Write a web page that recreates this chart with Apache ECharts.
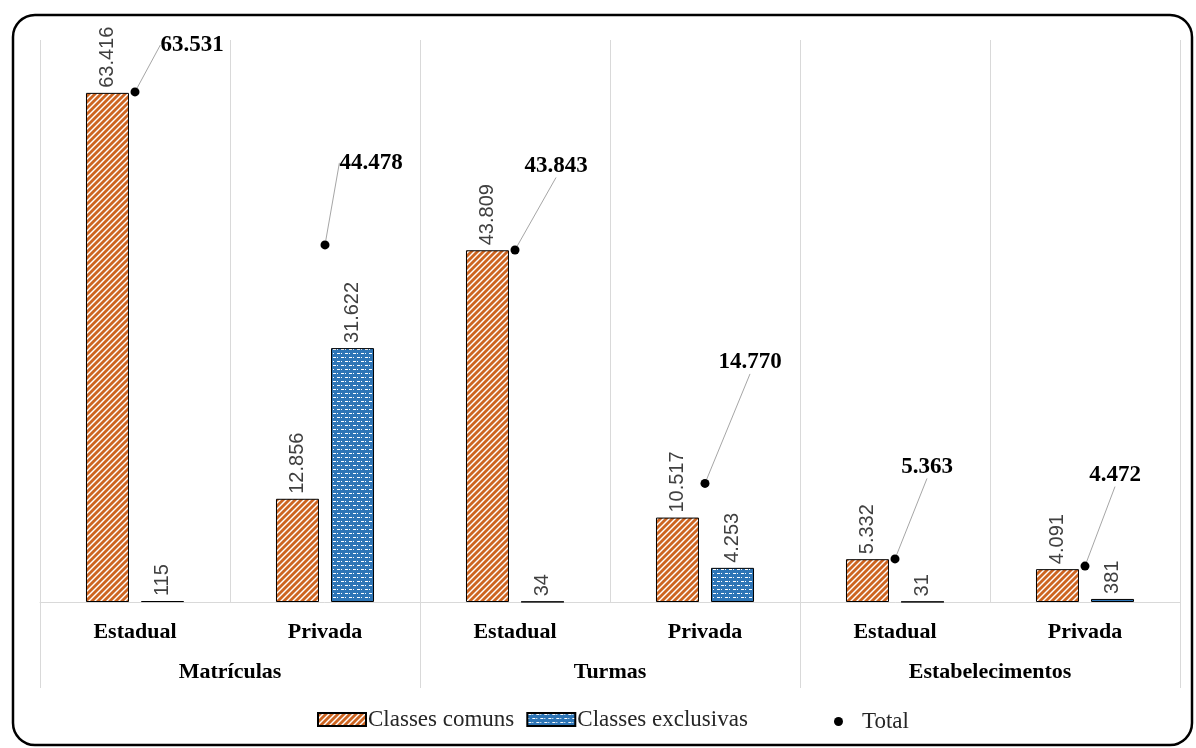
<!DOCTYPE html>
<html>
<head>
<meta charset="utf-8">
<script src="https://cdn.jsdelivr.net/npm/echarts@6/dist/echarts.min.js"></script>
<style>
  html, body { margin: 0; padding: 0; background: #fff; }
  #chart { width: 1196px; height: 748px; }
</style>
</head>
<body>
<div id="chart"></div>
<script>
// Categories and values
const categories = ['Estadual', 'Privada', 'Estadual', 'Privada', 'Estadual', 'Privada'];
const groups = ['Matrículas', 'Turmas', 'Estabelecimentos'];
const classesComuns = [63416, 12856, 43809, 10517, 5332, 4091];
const classesExclusivas = [115, 31622, 34, 4253, 31, 381];
const totals = [63531, 44478, 43843, 14770, 5363, 4472];

// Offsets (px) of each total label from its dot
const totalLabelShift = [[57, -47], [46, -82], [41, -84], [45, -121], [32, -92], [30, -91]];

const fmt = v => String(v).replace(/\B(?=(\d{3})+(?!\d))/g, '.');

// Diagonal hatch fill
function hatchPattern() {
  const c = document.createElement('canvas');
  c.width = 6; c.height = 6;
  const g = c.getContext('2d');
  g.fillStyle = '#CD6420';
  g.fillRect(0, 0, 6, 6);
  g.strokeStyle = '#ffffff';
  g.lineWidth = 1.4;
  for (let k = -6; k <= 12; k += 6) {
    g.beginPath();
    g.moveTo(k - 1, 7);
    g.lineTo(k + 7, -1);
    g.stroke();
  }
  return c;
}

// Blue fill with small white dashes
function dashPattern() {
  const c = document.createElement('canvas');
  c.width = 8; c.height = 8;
  const g = c.getContext('2d');
  g.fillStyle = '#2E75B6';
  g.fillRect(0, 0, 8, 8);
  g.fillStyle = '#ffffff';
  g.fillRect(1, 1, 3, 1);
  g.fillRect(5, 5, 3, 1);
  g.fillRect(5, 1, 1, 1);
  g.fillRect(1, 5, 1, 1);
  return c;
}

const chart = echarts.init(document.getElementById('chart'), null, { renderer: 'canvas' });

const serif = 'Liberation Serif, Times New Roman, serif';

const valueLabel = {
  show: true,
  position: 'top',
  rotate: 90,
  align: 'left',
  verticalAlign: 'middle',
  distance: 5,
  fontFamily: 'Liberation Sans, Arial, sans-serif',
  fontSize: 20,
  color: '#404040',
  formatter: p => fmt(p.value)
};

const option = {
  backgroundColor: '#ffffff',
  animation: false,
  graphic: [{
    type: 'rect',
    shape: { x: 13, y: 15, width: 1179, height: 730, r: 22 },
    style: { fill: 'none', stroke: '#000', lineWidth: 2.5 },
    silent: true,
    z: 0
  }],
  legend: [{
    data: [
      { name: 'Classes comuns', icon: 'rect' },
      { name: 'Classes exclusivas', icon: 'rect' }
    ],
    left: 312,
    top: 703,
    itemWidth: 48,
    itemHeight: 13,
    itemGap: 12,
    textStyle: { fontFamily: serif, fontSize: 23, color: '#262626', padding: [0, 0, 0, -3] }
  }, {
    data: [{ name: 'Total', icon: 'circle' }],
    left: 829,
    top: 705,
    itemWidth: 9,
    itemHeight: 9,
    itemGap: 20,
    textStyle: { fontFamily: serif, fontSize: 23, color: '#262626', padding: [0, 0, 0, 14] }
  }],
  grid: { left: 40, right: 16, top: 40, bottom: 146, containLabel: false },
  xAxis: [{
    type: 'category',
    data: categories,
    position: 'bottom',
    boundaryGap: true,
    axisLine: { show: true, lineStyle: { color: '#d9d9d9', width: 1 } },
    axisTick: { show: false },
    splitLine: { show: true, interval: 0, lineStyle: { color: '#d9d9d9', width: 1 } },
    axisLabel: {
      interval: 0,
      margin: 19,
      fontFamily: serif,
      fontWeight: 'bold',
      fontSize: 22,
      color: '#000'
    }
  }, {
    type: 'category',
    data: groups,
    position: 'bottom',
    boundaryGap: true,
    axisLine: { show: false },
    axisTick: { show: true, interval: 0, length: 86, lineStyle: { color: '#d9d9d9', width: 1 } },
    splitLine: { show: false },
    axisLabel: {
      interval: 0,
      margin: 59,
      fontFamily: serif,
      fontWeight: 'bold',
      fontSize: 22,
      color: '#000'
    }
  }],
  yAxis: {
    type: 'value',
    min: 0,
    max: 70000,
    show: false,
    splitLine: { show: false }
  },
  series: [{
    name: 'Classes comuns',
    type: 'bar',
    xAxisIndex: 0,
    data: classesComuns,
    barWidth: 43,
    barGap: '28%',
    itemStyle: {
      color: { image: hatchPattern(), repeat: 'repeat' },
      borderColor: '#000',
      borderWidth: 1
    },
    label: valueLabel,
    z: 2
  }, {
    name: 'Classes exclusivas',
    type: 'bar',
    xAxisIndex: 0,
    data: classesExclusivas,
    barWidth: 43,
    barGap: '28%',
    itemStyle: {
      color: { image: dashPattern(), repeat: 'repeat' },
      borderColor: '#000',
      borderWidth: 1
    },
    label: valueLabel,
    z: 2
  }, {
    name: 'Total',
    type: 'scatter',
    xAxisIndex: 0,
    data: totals,
    symbol: 'circle',
    symbolSize: 9,
    itemStyle: { color: '#000', opacity: 1 },
    z: 5,
    label: {
      show: true,
      position: 'inside',
      fontFamily: serif,
      fontWeight: 'bold',
      fontSize: 23,
      color: '#000',
      formatter: p => fmt(p.value)
    },
    labelLine: {
      show: true,
      lineStyle: { color: '#a6a6a6', width: 1 }
    },
    labelLayout: p => ({
      dx: totalLabelShift[p.dataIndex][0],
      dy: totalLabelShift[p.dataIndex][1]
    })
  }]
};

chart.setOption(option);
</script>
</body>
</html>
